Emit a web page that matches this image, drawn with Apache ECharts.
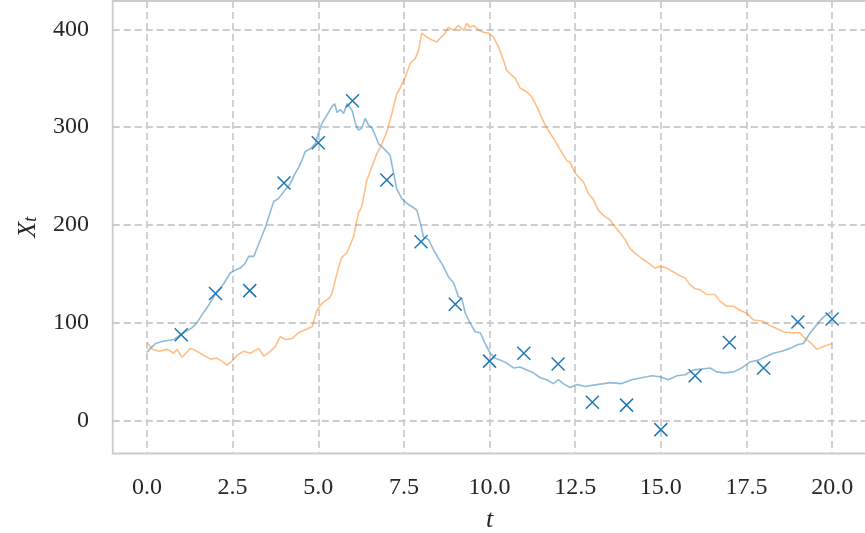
<!DOCTYPE html>
<html>
<head>
<meta charset="utf-8">
<script src="https://cdn.jsdelivr.net/npm/echarts@6/dist/echarts.min.js"></script>
<style>
html,body{margin:0;padding:0;background:#fff;}
#chart{width:865px;height:533px;}
</style>
</head>
<body>
<div id="chart"></div>
<script>
// Blue path (t, X_t)
const blueT = [0.00,0.10,0.25,0.44,0.78,1.02,1.31,1.46,1.60,1.80,1.99,2.24,2.43,2.58,2.72,2.87,2.97,3.12,3.21,3.31,3.46,3.55,3.70,3.84,3.99,4.18,4.33,4.43,4.52,4.62,4.77,4.91,5.01,5.11,5.25,5.40,5.48,5.55,5.64,5.74,5.84,5.99,6.08,6.17,6.27,6.37,6.47,6.57,6.66,6.76,6.86,7.00,7.10,7.20,7.29,7.44,7.59,7.73,7.88,7.98,8.07,8.22,8.36,8.51,8.65,8.80,8.95,9.09,9.19,9.29,9.43,9.58,9.73,9.87,10.02,10.16,10.31,10.50,10.70,10.89,11.09,11.28,11.48,11.67,11.86,12.01,12.15,12.35,12.55,12.79,13.13,13.52,13.86,14.15,14.44,14.74,14.98,15.22,15.47,15.71,15.95,16.19,16.44,16.63,16.87,17.12,17.36,17.60,17.85,18.09,18.28,18.53,18.77,19.01,19.16,19.36,19.55,19.74,20.00];
const blueX = [70,74,79,81,83,89,95,100,108,118,129,140,151,154,156,161,168,168,176,185,198,208,224,227,234,242,253,259,266,275,278,283,294,304,312,321,324,315,318,314,324,317,304,297,299,309,302,299,292,283,280,275,271,253,237,227,222,219,215,202,188,185,175,166,158,147,141,127,125,110,100,91,90,79,69,64,62,59,54,55,52,49,44,42,38,42,38,34,37,35,37,39,38,42,44,46,45,42,46,47,52,53,54,50,49,50,54,60,62,66,69,71,74,78,79,90,98,106,112];
// Orange path (t, X_t)
const orangeT = [0.00,0.16,0.35,0.60,0.78,0.88,1.02,1.27,1.46,1.65,1.85,2.04,2.19,2.33,2.48,2.63,2.82,3.02,3.26,3.41,3.60,3.75,3.89,4.04,4.23,4.43,4.62,4.82,4.87,4.96,5.11,5.31,5.40,5.60,5.69,5.84,6.03,6.17,6.27,6.42,6.57,6.71,6.86,7.00,7.15,7.29,7.39,7.54,7.68,7.83,7.93,8.02,8.17,8.32,8.46,8.56,8.70,8.80,8.95,9.09,9.24,9.34,9.43,9.53,9.68,9.82,9.97,10.12,10.26,10.41,10.50,10.65,10.75,10.89,11.09,11.23,11.38,11.53,11.67,11.86,12.06,12.25,12.35,12.50,12.74,12.89,13.03,13.18,13.32,13.52,13.67,13.81,13.96,14.10,14.25,14.44,14.64,14.83,14.98,15.17,15.37,15.51,15.71,15.85,16.00,16.14,16.34,16.58,16.73,16.92,17.12,17.31,17.51,17.70,17.95,18.14,18.33,18.58,18.82,19.06,19.21,19.40,19.55,19.74,20.00];
const orangeX = [80,73,71,73,69,73,65,74,71,67,63,64,61,57,61,67,71,69,74,66,71,76,86,83,84,90,93,96,98,113,120,125,130,158,167,172,188,212,219,246,260,273,283,295,314,334,340,351,365,370,379,396,392,389,387,391,396,402,399,404,399,406,402,404,399,397,396,392,382,368,358,353,350,340,336,331,321,309,299,289,277,266,264,253,244,232,226,215,210,205,198,192,185,176,171,166,161,156,158,156,152,149,146,139,135,134,129,129,122,117,117,113,110,103,102,98,95,91,90,90,84,79,73,76,79];
// Observations
const obsT = [1,2,3,4,5,6,7,8,9,10,11,12,13,14,15,16,17,18,19,20];
const obsX = [88,130,133,243,284,327,246,183,119,61,69,58,19,16,-9,46,80,54,101,104];
// Tick labels
const xTicks = [0,2.5,5,7.5,10,12.5,15,17.5,20];
const yTicks = [0,100,200,300,400];

const zip = (a,b) => a.map((v,i)=>[v,b[i]]);
const FONT = 'Liberation Serif';
const gridLine = {show:true, lineStyle:{color:'#cccccc', width:1.8, type:[7,4]}};

const chart = echarts.init(document.getElementById('chart'), null, {renderer:'canvas'});
chart.setOption({
  animation:false,
  backgroundColor:'#ffffff',
  grid:{left:112.7, top:1, width:753.7, height:452.5, show:true, borderColor:'#cccccc', borderWidth:1.8,
    backgroundColor:'#ffffff', containLabel:false, outerBoundsMode:'none'},
  xAxis:{
    type:'value', min:-1, max:21,
    axisLine:{show:false}, axisTick:{show:false, customValues:xTicks},
    axisLabel:{customValues:xTicks, margin:22, fontFamily:FONT, fontSize:24, color:'#262626',
      formatter:v=>v.toFixed(1)},
    splitLine:gridLine,
    name:'t', nameLocation:'middle', nameGap:54,
    nameTextStyle:{fontFamily:FONT, fontStyle:'italic', fontSize:26, color:'#262626'}
  },
  yAxis:{
    type:'value', min:-33.4, max:428.9,
    axisLine:{show:false}, axisTick:{show:false, customValues:yTicks},
    axisLabel:{customValues:yTicks, margin:23.7, fontFamily:FONT, fontSize:24, color:'#262626'},
    splitLine:gridLine,
    name:'{x|X}{s|t}', nameLocation:'middle', nameGap:72, nameRotate:90,
    nameTextStyle:{color:'#262626', rich:{
      x:{fontFamily:FONT, fontStyle:'italic', fontSize:26, color:'#262626', verticalAlign:'bottom', lineHeight:30},
      s:{fontFamily:FONT, fontStyle:'italic', fontSize:18, color:'#262626', verticalAlign:'bottom', lineHeight:22}
    }}
  },
  series:[
    {type:'line', data:zip(blueT,blueX), showSymbol:false, symbol:'none',
      lineStyle:{color:'#1f77b4', width:1.6, opacity:0.5}, z:2},
    {type:'line', data:zip(orangeT,orangeX), showSymbol:false, symbol:'none',
      lineStyle:{color:'#ff7f0e', width:1.6, opacity:0.5}, z:2},
    {type:'scatter', data:zip(obsT,obsX), symbol:'path://M0,0L10,10M10,0L0,10', symbolSize:13,
      itemStyle:{color:'rgba(0,0,0,0)', borderColor:'#1f77b4', borderWidth:1.5, opacity:1}, z:3}
  ]
});
</script>
</body>
</html>
